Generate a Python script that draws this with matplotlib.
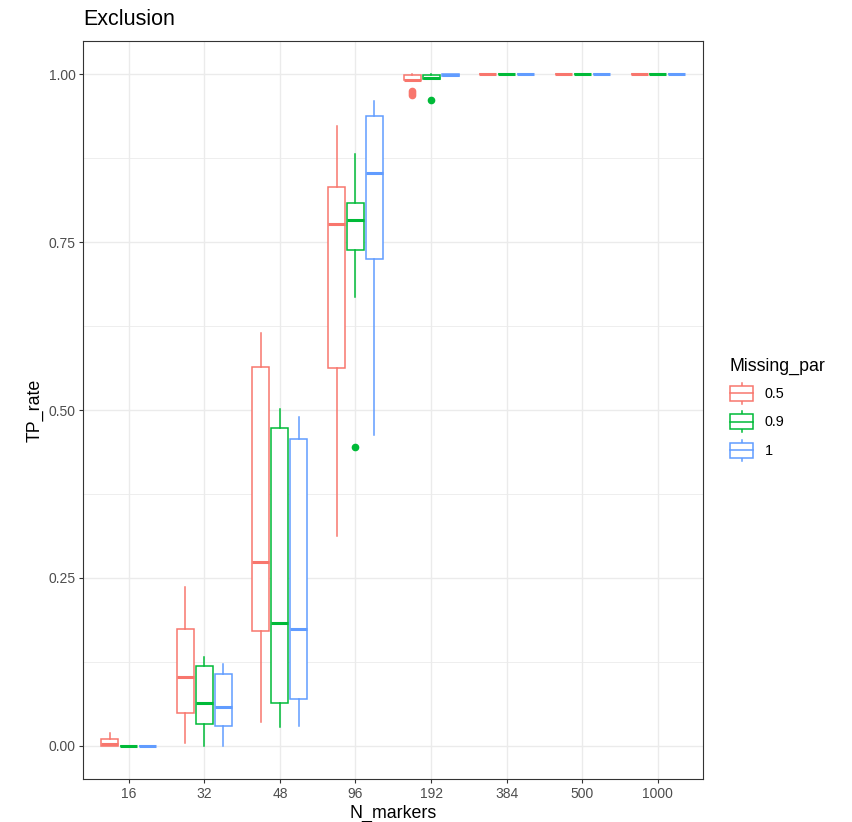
import matplotlib
matplotlib.use('Agg')
import matplotlib.pyplot as plt
from matplotlib.legend_handler import HandlerBase
from matplotlib.lines import Line2D
from matplotlib.patches import Rectangle
from matplotlib.ticker import MultipleLocator

plt.rcParams['font.family'] = ['Liberation Sans', 'DejaVu Sans']

categories = ['16', '32', '48', '96', '192', '384', '500', '1000']
groups = ['0.5', '0.9', '1']
colors = ['#F8766D', '#00BA38', '#619CFF']

# Missing_par = 0.5
lo_05 = [0.000, 0.004, 0.035, 0.313, 0.991, 1.0, 1.0, 1.0]
q1_05 = [0.000, 0.049, 0.171, 0.563, 0.991, 1.0, 1.0, 1.0]
md_05 = [0.002, 0.102, 0.273, 0.777, 0.992, 1.0, 1.0, 1.0]
q3_05 = [0.010, 0.174, 0.564, 0.832, 0.999, 1.0, 1.0, 1.0]
hi_05 = [0.019, 0.236, 0.614, 0.923, 1.000, 1.0, 1.0, 1.0]
fl_05 = [[], [], [], [], [0.975, 0.972, 0.969], [], [], []]

# Missing_par = 0.9
lo_09 = [0.0, 0.000, 0.028, 0.669, 0.9925, 1.0, 1.0, 1.0]
q1_09 = [0.0, 0.033, 0.064, 0.738, 0.9925, 1.0, 1.0, 1.0]
md_09 = [0.0, 0.063, 0.183, 0.783, 0.995, 1.0, 1.0, 1.0]
q3_09 = [0.0, 0.119, 0.473, 0.809, 0.9985, 1.0, 1.0, 1.0]
hi_09 = [0.0, 0.132, 0.501, 0.882, 1.000, 1.0, 1.0, 1.0]
fl_09 = [[], [], [], [0.4445], [0.961], [], [], []]

# Missing_par = 1
lo_1 = [0.0, 0.000, 0.029, 0.463, 0.998, 1.0, 1.0, 1.0]
q1_1 = [0.0, 0.029, 0.070, 0.725, 0.998, 1.0, 1.0, 1.0]
md_1 = [0.0, 0.058, 0.174, 0.853, 0.999, 1.0, 1.0, 1.0]
q3_1 = [0.0, 0.107, 0.457, 0.938, 1.000, 1.0, 1.0, 1.0]
hi_1 = [0.0, 0.121, 0.490, 0.960, 1.000, 1.0, 1.0, 1.0]
fl_1 = [[], [], [], [], [], [], [], []]

series = [
    (lo_05, q1_05, md_05, q3_05, hi_05, fl_05),
    (lo_09, q1_09, md_09, q3_09, hi_09, fl_09),
    (lo_1, q1_1, md_1, q3_1, hi_1, fl_1),
]

W, H = 853, 822
fig = plt.figure(figsize=(W / 100, H / 100), dpi=100)
L, R, T, B = 83.3, 703.3, 40.7, 779.3
ax = fig.add_axes([L / W, 1 - B / H, (R - L) / W, (B - T) / H])

dodge = 0.25
bw = 0.225
lw = 1.1
for gi, (lo, q1, md, q3, hi, fl) in enumerate(series):
    c = colors[gi]
    stats = []
    for i in range(len(categories)):
        stats.append(dict(whislo=lo[i], q1=q1[i], med=md[i], q3=q3[i],
                          whishi=hi[i], fliers=fl[i]))
    pos = [i + (gi - 1) * dodge for i in range(len(categories))]
    ax.bxp(stats, positions=pos, widths=bw, showcaps=False, patch_artist=True,
           manage_ticks=False,
           boxprops=dict(facecolor='white', edgecolor=c, linewidth=lw),
           medianprops=dict(color=c, linewidth=lw * 2, solid_capstyle='butt'),
           whiskerprops=dict(color=c, linewidth=lw),
           flierprops=dict(marker='o', markerfacecolor=c, markeredgecolor=c,
                           markersize=4.5, linestyle='none'),
           zorder=3)

ax.set_xlim(-0.6, len(categories) - 1 + 0.6)
ax.set_ylim(-0.05, 1.05)
ax.set_xticks(range(len(categories)))
ax.set_xticklabels(categories)
ax.yaxis.set_major_locator(MultipleLocator(0.25))
ax.yaxis.set_minor_locator(MultipleLocator(0.125))
ax.yaxis.set_major_formatter(plt.FuncFormatter(lambda v, p: f'{v:.2f}'))

ax.grid(True, which='major', color='#EBEBEB', linewidth=1.0, zorder=0)
ax.grid(True, which='minor', axis='y', color='#EBEBEB', linewidth=0.6, zorder=0)
ax.set_axisbelow(True)
ax.tick_params(which='major', length=3, width=0.8, color='#333333',
               labelcolor='#4D4D4D', labelsize=10, pad=2.5)
ax.tick_params(which='minor', length=0)
for s in ax.spines.values():
    s.set_color('#333333')
    s.set_linewidth(0.8)

ax.set_xlabel('N_markers', fontsize=12.8, color='black')
ax.set_ylabel('TP_rate', fontsize=12.8, color='black')
ax.xaxis.label.set_va('center')
ax.yaxis.label.set_va('center')
ax.xaxis.set_label_coords(0.5, (B - 813) / (B - T))
ax.yaxis.set_label_coords((35 - L) / (R - L), 0.5)

ax.text(0, 1 + (T - 19) / (B - T), 'Exclusion', transform=ax.transAxes,
        ha='left', va='center', fontsize=15.5, color='black')


class BoxKeyHandler(HandlerBase):
    def create_artists(self, legend, orig_handle, xdescent, ydescent,
                       width, height, fontsize, trans):
        c = orig_handle.get_color()
        x0, y0 = -xdescent, -ydescent
        xm, ym = x0 + width / 2, y0 + height / 2
        bh = height * 0.7
        w1 = Line2D([xm, xm], [y0, ym - bh / 2], color=c, lw=lw, transform=trans)
        w2 = Line2D([xm, xm], [ym + bh / 2, y0 + height], color=c, lw=lw, transform=trans)
        rect = Rectangle((x0, ym - bh / 2), width, bh, facecolor='white',
                         edgecolor=c, lw=lw, transform=trans)
        med = Line2D([x0, x0 + width], [ym, ym], color=c, lw=lw, transform=trans)
        return [w1, w2, rect, med]


handles = [Line2D([], [], color=c) for c in colors]
fig.legend(handles, groups, title='Missing_par', loc='upper left',
           bbox_to_anchor=(730 / W, 1 - 358 / H), frameon=False,
           handler_map={Line2D: BoxKeyHandler()}, fontsize=10.4,
           title_fontsize=12.8, handlelength=1.6, handleheight=1.87,
           labelspacing=0.52, handletextpad=0.8, borderpad=0, borderaxespad=0,
           alignment='left')

fig.savefig('out.png', dpi=100)
